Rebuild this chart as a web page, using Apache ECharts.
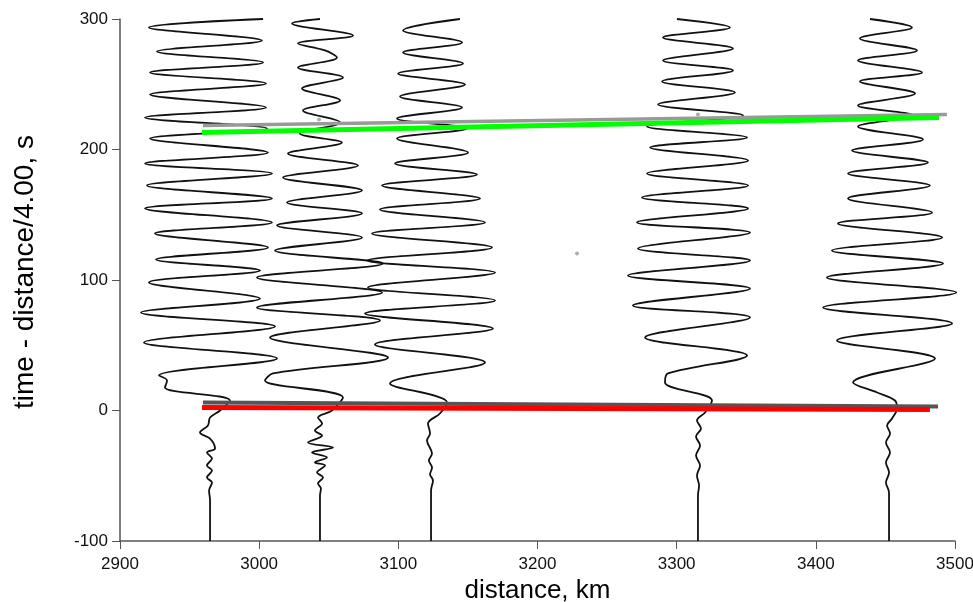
<!DOCTYPE html>
<html>
<head>
<meta charset="utf-8">
<script src="https://cdn.jsdelivr.net/npm/echarts@6/dist/echarts.min.js"></script>
<style>html,body{margin:0;padding:0;background:#fff}#c{width:973px;height:602px}</style>
</head>
<body>
<div id="c"></div>
<script>
// x ticks / y ticks
var xTicks = [2900, 3000, 3100, 3200, 3300, 3400, 3500];
var yTicks = [-100, 0, 100, 200, 300];

// Seismogram traces: [distance km, reduced time s]
var trace1 = [[3002.8,300],[2920.8,293.5],[3002.0,283.5],[2926.6,275.1],[3002.8,266.7],[2921.6,259.0],[3004.9,250.6],[2921.6,242.1],[3004.9,232.2],[2918.0,224.5],[3005.6,216.1],[2921.6,208.4],[3006.3,197.7],[2918.0,189.3],[3009.2,181.6],[2919.4,172.4],[3009.2,162.5],[2918.0,154.8],[3009.2,144.1],[2925.1,135.6],[3006.3,124.9],[2925.9,115.7],[3000.6,107.3],[2920.8,98.1],[3000.6,85.8],[2915.1,75.1],[3011.4,64.4],[2917.2,52.1],[3012.8,39.8],[2928.0,26.8],[2933.8,23.0],[2932.3,17.6],[2979.0,7.7],[2971.9,0],[2964.7,-5.4],[2963.2,-11.5],[2957.5,-16.9],[2964.7,-21.5],[2968.3,-29.1],[2962.5,-32.2],[2966.1,-36.8],[2962.5,-42.1],[2966.1,-46.0],[2962.5,-51.3],[2966.1,-55.2],[2964.0,-61.3],[2964.7,-68.9],[2964.7,-100]];
var trace2 = [[3043.7,300],[3023.6,296.6],[3067.4,287.4],[3027.9,281.2],[3047.3,275.9],[3055.9,270.5],[3027.9,262.8],[3060.2,255.2],[3030.8,246.7],[3058.1,237.6],[3031.5,229.9],[3058.1,220.7],[3029.3,212.3],[3059.5,205.4],[3020.7,196.9],[3071.0,187.7],[3017.1,178.5],[3073.9,168.6],[3020.0,159.4],[3073.9,151.0],[3012.8,141.8],[3073.9,132.6],[3011.4,122.6],[3089.0,112.6],[2998.4,101.9],[3088.3,90.4],[2998.4,78.9],[3086.8,69.0],[3007.8,55.9],[3092.6,40.6],[3009.9,28.4],[3004.2,23.0],[3060.2,10.0],[3052.3,0],[3042.3,-5.4],[3045.2,-10.0],[3040.1,-15.3],[3045.2,-19.2],[3035.1,-24.5],[3053.1,-28.4],[3038.0,-32.2],[3048.7,-36.0],[3040.1,-39.8],[3047.3,-42.1],[3041.6,-47.5],[3045.9,-51.3],[3042.3,-55.9],[3044.4,-59.8],[3043.7,-65.1],[3043.7,-100]];
var trace3 = [[3144.3,300],[3103.4,291.2],[3145.8,282.0],[3103.4,274.3],[3146.5,265.9],[3099.8,258.2],[3147.9,249.8],[3101.2,240.6],[3145.8,232.2],[3099.0,223.8],[3149.3,216.1],[3099.0,208.4],[3150.1,197.7],[3097.6,189.3],[3156.5,180.8],[3088.3,172.4],[3158.7,162.5],[3086.8,154.0],[3162.3,144.1],[3081.1,135.6],[3167.3,124.9],[3077.5,114.9],[3169.5,105.7],[3078.2,94.3],[3169.5,84.3],[3076.1,74.3],[3168.0,62.8],[3083.2,50.6],[3162.3,36.8],[3094.0,20.7],[3135.0,6.1],[3129.9,-2.3],[3121.3,-10.0],[3122.8,-17.6],[3120.6,-23.0],[3124.2,-33.0],[3122.0,-38.3],[3124.2,-43.7],[3122.8,-49.0],[3124.9,-53.6],[3123.5,-61.3],[3123.5,-100]];
var trace4 = [[3300.2,300],[3338.3,293.5],[3290.2,285.8],[3340.5,277.4],[3290.2,268.2],[3340.5,260.5],[3289.5,252.1],[3341.9,243.7],[3286.6,234.5],[3347.7,226.1],[3278.7,217.6],[3350.6,209.2],[3280.9,201.5],[3351.3,191.6],[3278.7,181.6],[3351.3,172.4],[3275.1,163.2],[3351.3,154.8],[3271.5,144.1],[3352.7,136.4],[3272.2,124.1],[3352.7,114.9],[3265.0,103.4],[3352.7,93.5],[3268.6,80.5],[3352.7,71.3],[3277.3,55.9],[3350.6,42.1],[3293.8,28.4],[3291.6,21.5],[3325.4,7.7],[3320.4,-1.5],[3314.6,-7.7],[3317.5,-13.8],[3313.9,-19.9],[3316.8,-26.8],[3313.9,-34.5],[3316.8,-42.1],[3314.6,-49.8],[3316.1,-57.5],[3315.3,-65.1],[3315.3,-100]];
var trace5 = [[3438.9,300],[3469.1,293.5],[3431.7,285.1],[3472.7,275.9],[3430.3,268.2],[3476.3,259.0],[3431.7,252.1],[3471.3,242.9],[3430.3,233.7],[3469.8,226.1],[3430.3,217.6],[3477.0,207.7],[3426.0,199.2],[3480.6,190.0],[3423.1,181.6],[3482.0,172.4],[3423.1,162.5],[3483.5,151.7],[3415.9,143.3],[3490.7,132.6],[3411.6,122.6],[3491.4,112.6],[3408.0,101.9],[3501.0,90.4],[3405.2,78.9],[3497.9,66.7],[3415.2,53.6],[3485.6,39.8],[3426.7,21.5],[3444.0,13.8],[3456.9,7.7],[3458.3,1.5],[3454.8,-6.1],[3451.2,-11.5],[3453.3,-17.6],[3450.4,-24.5],[3453.3,-32.2],[3450.4,-39.8],[3452.6,-47.5],[3450.4,-55.2],[3452.6,-62.8],[3452.6,-100]];

// Travel-time picks (fitted lines)
var lineGray = [[2959.6,218.4],[3494.2,226.8]];
var lineGreen = [[2958.9,213.0],[3488.5,224.5]];
var lineDark = [[2959.6,6.1],[3487.8,3.1]];
var lineRed = [[2958.9,2.3],[3482.0,0.8]];
var picks = [[3228.4,120.3],[3043.0,223.0],[3315.3,226.8]];

var traces = [trace1, trace2, trace3, trace4, trace5];
var series = traces.map(function (t) {
  return {type:'line', data:t, showSymbol:false, smooth:0.35, clip:false,
    lineStyle:{color:'#111', width:1.8}, z:2};
});
series.push({type:'line', data:lineGray, showSymbol:false, lineStyle:{color:'#999', width:3.5}, z:3});
series.push({type:'line', data:lineGreen, showSymbol:false, lineStyle:{color:'#00ff00', width:5}, z:4});
series.push({type:'line', data:lineDark, showSymbol:false, lineStyle:{color:'#555', width:4}, z:3});
series.push({type:'line', data:lineRed, showSymbol:false, lineStyle:{color:'#ff0000', width:5}, z:4});
series.push({type:'scatter', data:picks, symbolSize:4, itemStyle:{color:'#999'}, z:5});

var fmt = function (v) { return String(v); };
var chart = echarts.init(document.getElementById('c'), null, {renderer:'canvas'});
chart.setOption({
  animation:false,
  backgroundColor:'#fff',
  grid:{left:120, right:18, top:19, bottom:61, containLabel:false, outerBoundsMode:'none'},
  xAxis:{type:'value', min:xTicks[0], max:xTicks[xTicks.length-1], interval:100,
    name:'distance, km', nameLocation:'middle', nameGap:35,
    nameTextStyle:{fontFamily:'Liberation Sans', fontSize:26, color:'#000'},
    axisLine:{show:true, onZero:false, lineStyle:{color:'#555', width:1.5}},
    axisTick:{show:true, inside:false, length:8, lineStyle:{color:'#555'}},
    axisLabel:{fontFamily:'Liberation Sans', fontSize:17, color:'#111', margin:15, formatter:fmt},
    splitLine:{show:false}},
  yAxis:{type:'value', min:yTicks[0], max:yTicks[yTicks.length-1], interval:100,
    name:'time - distance/4.00, s', nameLocation:'middle', nameGap:81,
    nameTextStyle:{fontFamily:'Liberation Sans', fontSize:28, color:'#000', padding:[0,0,0,16]},
    axisLine:{show:true, onZero:false, lineStyle:{color:'#555', width:1.5}},
    axisTick:{show:true, inside:false, length:8, lineStyle:{color:'#555'}},
    axisLabel:{fontFamily:'Liberation Sans', fontSize:17, color:'#111', margin:12, formatter:fmt},
    splitLine:{show:false}},
  series:series
});
</script>
</body>
</html>
